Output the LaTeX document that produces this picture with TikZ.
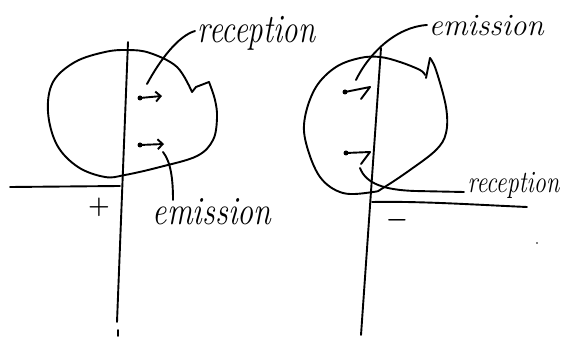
\documentclass[tikz,border=0pt]{standalone}
\usetikzlibrary{arrows.meta}
\begin{document}
\begin{tikzpicture}[x=1pt,y=-1pt, line width=1.9pt, line cap=round, line join=round,
  lbl/.style={font=\fontsize{31}{31}\selectfont\itshape, inner sep=0pt, anchor=base west},
  sgn/.style={font=\fontsize{30}{30}\selectfont\boldmath, inner sep=0pt},
  vec/.style={-{Straight Barb[length=5pt,width=10pt,line width=1.9pt]}},
  dotmark/.style={fill=black}]
\useasboundingbox (0,0) rectangle (567,344);
% ---------------- left figure ----------------
\coordinate (LvT) at (128,42);
\coordinate (LvB) at (117,322);
\coordinate (LhA) at (10,187);
\coordinate (LhB) at (120,186);
\draw (LvT) -- (LvB);
\draw (LhA) -- (LhB);
\draw (118,330) -- (118,336);
\draw plot[smooth, tension=0.6] coordinates {(209,82) (215,100) (217,118) (213,140) (197,156) (160,167) (125,175) (105,177) (78,167) (57,145) (48,112) (53,82) (75,62) (105,52) (128,50) (150,53) (177,67) (192,92)};
\draw (192,92) -- (196,87) -- (209,82);
\coordinate (La1) at (140,98);
\coordinate (La1t) at (162,96);
\coordinate (La2) at (140,145);
\coordinate (La2t) at (164,144);
\fill[dotmark] (La1) circle (2.5pt);
\fill[dotmark] (La2) circle (2.5pt);
\draw[vec] (La1) -- (La1t);
\draw[vec] (La2) -- (La2t);
\node[lbl, yscale=1.3] (Lrec) at (197,43) {reception};
\node[lbl, font=\fontsize{32}{32}\selectfont\itshape, yscale=1.25] (Lemi) at (152,225) {emission};
\coordinate (LrecS) at (147,84);
\coordinate (LrecE) at (195,31);
\draw (LrecS) .. controls (160,60) and (178,36) .. (LrecE);
\coordinate (LemiS) at (163,152);
\coordinate (LemiE) at (173,200);
\draw (LemiS) .. controls (171,162) and (173,180) .. (LemiE);
\node[sgn] (plus) at (99,207) {$+$};
% ---------------- right figure ----------------
\coordinate (RvT) at (381,48);
\coordinate (RvB) at (361,335);
\coordinate (RhA) at (372,202);
\coordinate (RhB) at (527,207);
\draw (RvT) -- (RvB);
\draw (RhA) .. controls (420,201) and (480,205) .. (RhB);
\draw plot[smooth, tension=0.6] coordinates {(430,58) (436,70) (446,107) (446,133) (436,150) (410,170) (383,188) (373,192) (343,193) (320,177) (306,143) (305,117) (316,87) (336,67) (360,58) (380,57) (400,62) (420,70) (425,75)};
\draw (426,78) -- (430,58);
\coordinate (Ra1) at (345,92);
\coordinate (Ra1t) at (370,87);
\coordinate (Ra2) at (346,153);
\coordinate (Ra2t) at (370,152);
\fill[dotmark] (Ra1) circle (2.5pt);
\fill[dotmark] (Ra2) circle (2.5pt);
\draw (Ra1) -- (Ra1t) -- (361,99);
\draw (Ra2) -- (Ra2t) -- (361,164);
\node[lbl] (Remi) at (428,36) {emission};
\node[lbl, xscale=0.78] (Rrec) at (467,193) {reception};
\coordinate (RemiS) at (356,80);
\coordinate (RemiE) at (427,25);
\draw (RemiS) .. controls (368,55) and (395,27) .. (RemiE);
\coordinate (RrecS) at (360,168);
\coordinate (RrecE) at (464,192);
\draw (RrecS) .. controls (366,184) and (385,190) .. (415,191) -- (RrecE);
\node[sgn] (minus) at (397,220) {$-$};
\fill (537,243) circle (0.9pt);
\end{tikzpicture}
\end{document}
